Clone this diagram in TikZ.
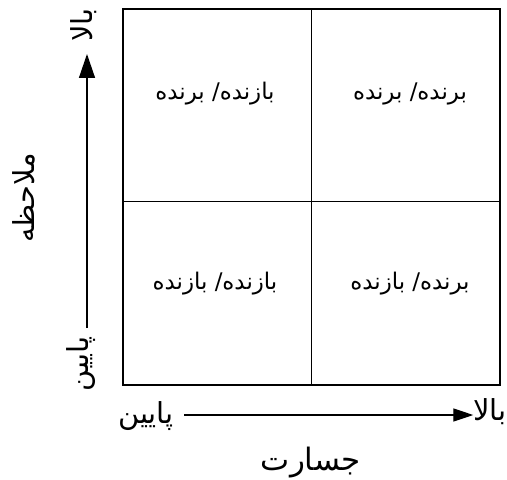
\documentclass[tikz,border=0pt]{standalone}
\usepackage{fontspec}
\usetikzlibrary{arrows.meta}
\newfontfamily\arabicfont[Script=Arabic]{DejaVu Sans}
\TeXXeTstate=1
\tikzset{
  cell/.style={font=\arabicfont\fontsize{23}{26}\selectfont, inner sep=0pt},
  axlab/.style={font=\arabicfont\fontsize{29}{32}\selectfont, inner sep=0pt},
  vtitle/.style={font=\arabicfont\fontsize{29}{32}\selectfont, inner sep=0pt},
  htitle/.style={font=\arabicfont\fontsize{31}{34}\selectfont, inner sep=0pt},
  vaxis/.style={line width=1.4bp, -{Triangle[length=24bp,width=16bp]}},
  haxis/.style={line width=1.4bp, -{Triangle[length=20bp,width=13bp]}},
}
\begin{document}
\begin{tikzpicture}[x=1bp,y=-1bp]
\useasboundingbox (0,0) rectangle (507,480);
% box
\coordinate (tl) at (123,9);
\coordinate (br) at (500,385);
\draw[line width=1.4bp] (tl) rectangle (br);
\coordinate (vt) at (311,9);
\coordinate (vb) at (311,385);
\coordinate (hl) at (123,201);
\coordinate (hr) at (500,201);
\draw[line width=1bp] (vt) -- (vb);
\draw[line width=1bp] (hl) -- (hr);
% cells
\node[cell] (c1) at (215,94) {\beginR بازنده/ برنده\endR};
\node[cell] (c2) at (410,94) {\beginR برنده/ برنده\endR};
\node[cell] (c3) at (215,284) {\beginR بازنده/ بازنده\endR};
\node[cell] (c4) at (410,284) {\beginR برنده/ بازنده\endR};
% vertical axis
\node[axlab, rotate=90] (vhigh) at (84,25) {\beginR بالا\endR};
\node[axlab, rotate=90] (vlow) at (81,364) {\beginR پایین\endR};
\coordinate (va) at (87,328);
\coordinate (vz) at (87,54);
\draw[vaxis] (va) -- (vz);
\node[vtitle, rotate=90] (vt1) at (24,198) {\beginR ملاحظه\endR};
% horizontal axis
\node[axlab] (hlow) at (146,416) {\beginR پایین\endR};
\node[axlab, anchor=east] (hhigh) at (507,412) {\beginR بالا\endR};
\coordinate (ha) at (184,415);
\coordinate (hz) at (hhigh.west);
\draw[haxis] (ha) -- (hz |- ha);
\node[htitle] (ht) at (311,463) {\beginR جسارت\endR};
\end{tikzpicture}
\end{document}
